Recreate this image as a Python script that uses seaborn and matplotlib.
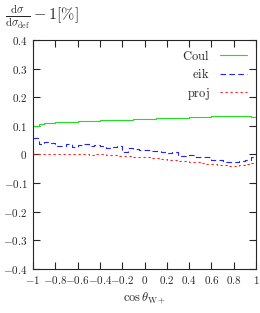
import numpy as np
import pandas as pd
import seaborn as sns
from matplotlib import pyplot as plt

# bin edges of cos(theta_W+), 40 bins
edges = np.linspace(-1, 1, 41)

coul = [0.100, 0.108, 0.110, 0.111, 0.112, 0.113, 0.114, 0.115, 0.116, 0.117,
        0.118, 0.118, 0.119, 0.120, 0.120, 0.121, 0.122, 0.122, 0.123, 0.124,
        0.125, 0.125, 0.126, 0.127, 0.127, 0.128, 0.129, 0.129, 0.130, 0.131,
        0.131, 0.132, 0.133, 0.133, 0.134, 0.135, 0.135, 0.135, 0.134, 0.132]
eik = [0.058, 0.035, 0.045, 0.040, 0.030, 0.028, 0.035, 0.025, 0.032, 0.038,
       0.028, 0.033, 0.030, 0.022, 0.025, 0.030, 0.010, 0.022, 0.018, 0.015,
       0.015, 0.012, 0.012, 0.010, 0.005, 0.008, -0.005, -0.005, -0.002, -0.008,
       -0.010, -0.010, -0.020, -0.020, -0.025, -0.025, -0.025, -0.022, -0.020, -0.010]
proj = [0.000, 0.002, 0.003, 0.002, 0.002, 0.001, 0.001, 0.000, 0.001, 0.000,
        -0.001, 0.000, 0.000, -0.002, -0.003, -0.004, -0.005, -0.006, -0.008, -0.009,
        -0.010, -0.012, -0.014, -0.016, -0.018, -0.020, -0.022, -0.024, -0.026, -0.028,
        -0.030, -0.032, -0.034, -0.036, -0.038, -0.040, -0.040, -0.038, -0.035, -0.030]

xticks = [-1, -0.8, -0.6, -0.4, -0.2, 0, 0.2, 0.4, 0.6, 0.8, 1]
xtick_labels = ['-1', '-0.8', '-0.6', '-0.4', '-0.2', '0', '0.2', '0.4', '0.6', '0.8', '1']
yticks = [-0.4, -0.3, -0.2, -0.1, 0, 0.1, 0.2, 0.3, 0.4]
ytick_labels = ['-0.4', '-0.3', '-0.2', '-0.1', '0', '0.1', '0.2', '0.3', '0.4']

series = {'Coul': coul, 'eik': eik, 'proj': proj}
styles = {'Coul': ('#22dd22', '-'), 'eik': ('#2222ff', (0, (5, 3))), 'proj': ('#ff2222', (0, (2, 2.5)))}

sns.set_style('ticks')
plt.rcParams['font.family'] = ['DejaVu Serif']
plt.rcParams['mathtext.fontset'] = 'cm'

fig = plt.figure(figsize=(2.6, 3.13), dpi=100)
ax = fig.add_axes([0.127, 0.141, 0.858, 0.731])

for name, vals in series.items():
    df = pd.DataFrame({'x': edges, 'y': list(vals) + [vals[-1]]})
    color, ls = styles[name]
    sns.lineplot(data=df, x='x', y='y', ax=ax, drawstyle='steps-post',
                 color=color, linestyle=ls, linewidth=0.8, label=r'$\mathrm{%s}$' % name)

ax.set_xlim(-1, 1)
ax.set_ylim(-0.4, 0.4)
ax.set_xticks(xticks)
ax.set_xticklabels(['$%s$' % t for t in xtick_labels])
ax.set_yticks(yticks)
ax.set_yticklabels(['$%s$' % t for t in ytick_labels])
ax.tick_params(direction='in', top=True, right=True, length=5, width=0.8,
               labelsize=8, pad=4)
for s in ax.spines.values():
    s.set_linewidth(0.8)

ax.set_xlabel(r'$\cos\theta_{\mathrm{W+}}$', fontsize=9, labelpad=3)
ax.set_ylabel('')
fig.text(0.02, 0.99, r'$\frac{\mathrm{d}\sigma}{\mathrm{d}\sigma_{\mathrm{def}}}-1[\%]$',
         fontsize=11.5, ha='left', va='top')

leg = ax.legend(loc='upper right', frameon=False, fontsize=9, markerfirst=False,
                handlelength=2.2, labelspacing=0.35, borderaxespad=0.3)

fig.savefig('out.png', dpi=100)
